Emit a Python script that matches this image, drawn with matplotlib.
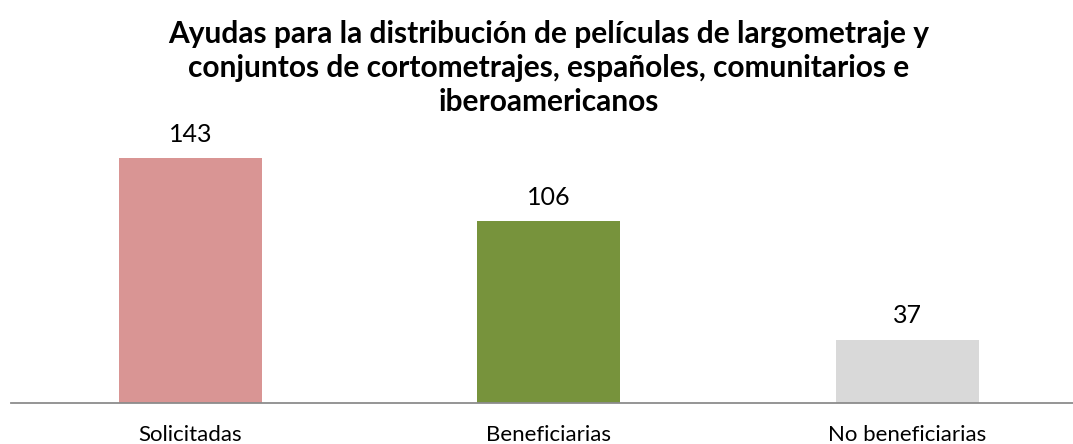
import matplotlib.pyplot as plt

categories = ["Solicitadas", "Beneficiarias", "No beneficiarias"]
values = [143, 106, 37]
colors = ["#d99594", "#77933c", "#d9d9d9"]
title = ("Ayudas para la distribución de películas de largometraje y\n"
         "conjuntos de cortometrajes, españoles, comunitarios e\n"
         "iberoamericanos")

plt.rcParams['font.family'] = ['Lato', 'DejaVu Sans']

W, H = 1073, 444
fig = plt.figure(figsize=(W / 100, H / 100), dpi=100)

# axes placed in pixel terms: baseline at y=403, category band 11..1086
px_per_unit = 245 / 143
ymax = 160
ax_h = ymax * px_per_unit
ax = fig.add_axes([11 / W, (H - 403) / H, 1075.5 / W, ax_h / H])

x = range(len(categories))
bars = ax.bar(x, values, width=0.4, color=colors)
ax.set_xlim(-0.5, 2.5)
ax.set_ylim(0, ymax)

for b, v in zip(bars, values):
    ax.annotate(str(v), (b.get_x() + b.get_width() / 2, v),
                xytext=(0, 17), textcoords="offset points",
                ha="center", va="center", fontsize=18, color="#000000")

ax.set_xticks(list(x))
ax.set_xticklabels(categories, fontsize=16)
ax.tick_params(axis="x", length=0, pad=16)
ax.set_yticks([])
for s in ["top", "right", "left"]:
    ax.spines[s].set_visible(False)
ax.spines["bottom"].set_color("#8c8c8c")
ax.spines["bottom"].set_linewidth(1.3)

fig.text((11 + 1075.5 / 2) / W, 1 - 20 / H, title, ha="center", va="top",
         fontsize=21.5, fontweight="bold", linespacing=1.27)

fig.savefig("out.png", dpi=100)
